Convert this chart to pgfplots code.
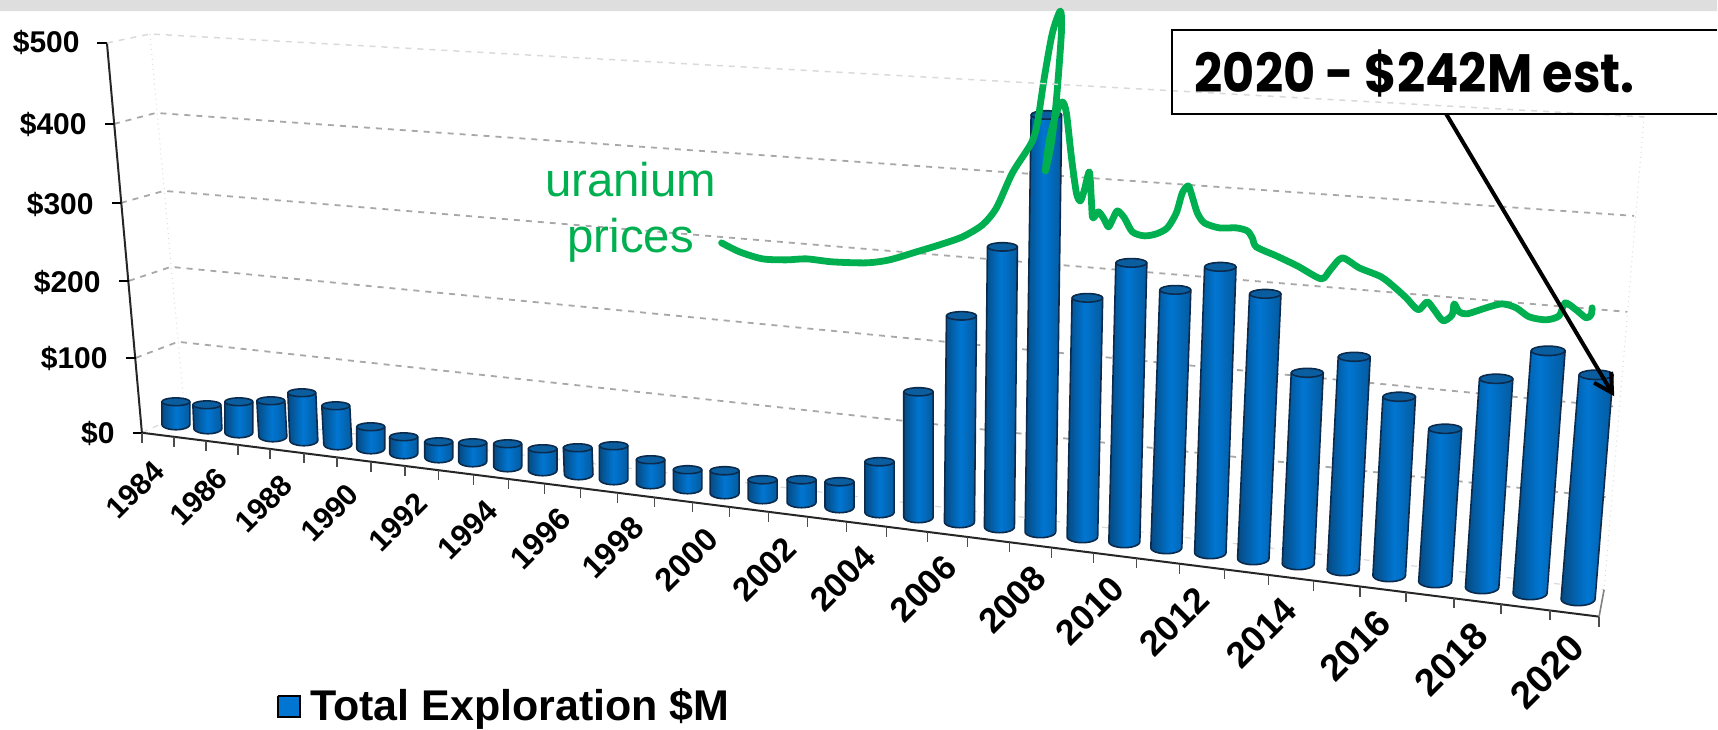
\documentclass[border=0pt]{standalone}
\usepackage{pgfplots}
\pgfplotsset{compat=1.18}
\usepackage{fontspec}
\setmainfont{Liberation Sans}
\newfontfamily\boxf{Poppins}
\definecolor{gridg}{HTML}{A8A8A8}
\definecolor{faintg}{HTML}{DADADA}
\definecolor{barL}{HTML}{064A82}
\definecolor{barM}{HTML}{0076D2}
\definecolor{barR}{HTML}{055A9E}
\definecolor{barT}{HTML}{0A5E9F}
\definecolor{barE}{HTML}{0B2A4C}
\definecolor{ugreen}{HTML}{00B050}
% one cylinder: top x, top y, bottom x, bottom y (reference pixels), half width
\newcommand\cyl[5]{%
  \pgfmathsetmacro\ryb{0.38*#5}%
  \pgfmathsetmacro\ryt{0.28*#5}%
  \pgfmathsetmacro\ybc{#4-\ryb}%
  \gdef\cylc{}%
  \foreach \a in {180,165,...,0}{%
    \pgfmathsetmacro\px{#3+#5*cos(\a)}%
    \pgfmathsetmacro\py{\ybc+\ryb*sin(\a)}%
    \xdef\cylc{\cylc (\px,\py)}}%
  \pgfmathsetmacro\xa{#1-#5}%
  \pgfmathsetmacro\xb{#1+#5}%
  \pgfmathsetmacro\xc{#3-#5}%
  \edef\tmp{\noexpand\addplot[draw=barE,line width=0.8pt,line join=round,left color=barL,right color=barR,middle color=barM,mark=none] coordinates {(\xc,\ybc) \cylc (\xb,#2) (\xa,#2) (\xc,\ybc)};}\tmp
  \gdef\cylt{}%
  \foreach \a in {0,20,...,360}{%
    \pgfmathsetmacro\px{#1+#5*cos(\a)}%
    \pgfmathsetmacro\py{#2+\ryt*sin(\a)}%
    \xdef\cylt{\cylt (\px,\py)}}%
  \edef\tmp{\noexpand\addplot[draw=barE,line width=0.8pt,line join=round,fill=barT,mark=none] coordinates {\cylt};}\tmp
}
\newcommand\grid[1]{\addplot[gridg,line width=0.9pt,dash pattern=on 3pt off 3pt,mark=none] coordinates {#1};}
\newcommand\lab[3]{\node[rotate=45,font=\fontsize{#3}{20}\selectfont\bfseries] at (axis cs:#1) {#2};}
\newcommand\ylab[2]{\node[anchor=east,inner sep=0pt,font=\fontsize{15}{18}\selectfont\bfseries] at (axis cs:#1) {#2};}
\begin{document}
\begin{tikzpicture}
\begin{axis}[hide axis,scale only axis,width=859pt,height=365pt,
  xmin=0,xmax=1718,ymin=0,ymax=730,y dir=reverse,clip=false]
\path (axis cs:0,0) rectangle (axis cs:1718,730);
% top band
\addplot[draw=none,fill=black!13,mark=none] coordinates {(0,0)(1718,0)(1718,11)(0,11)(0,0)};
% walls and floor
\addplot[faintg,line width=0.5pt,dotted,mark=none] coordinates {(150,34)(185,415)};
\addplot[faintg,line width=0.5pt,dotted,mark=none] coordinates {(1645,117)(1605,590)};
\addplot[faintg,line width=0.6pt,dash pattern=on 3pt off 3pt,mark=none] coordinates {(142,433)(185,413)(1605,590)};
\grid{(114,124)(156,113)(1635,216)}
\grid{(121,203)(164,191)(1628,312)}
\grid{(129,281)(171,267)(1618,407)}
\grid{(136,358)(178,342)(1611,498)}
% axes
\addplot[black!85,line width=1pt,mark=none] coordinates {(107,43)(142,433)};
\addplot[black!85,line width=1pt,mark=none] coordinates {(142,433)(1600,617)};
\addplot[gray,line width=0.8pt,mark=none] coordinates {(1600,617)(1605,590)};
\addplot[black,line width=0.75pt,mark=none] coordinates {(97,43)(107,43)};
\addplot[black,line width=0.75pt,mark=none] coordinates {(105,124)(114,124)};
\addplot[black,line width=0.75pt,mark=none] coordinates {(112,203)(121,203)};
\addplot[black,line width=0.75pt,mark=none] coordinates {(119,281)(129,281)};
\addplot[black,line width=0.75pt,mark=none] coordinates {(126,358)(136,358)};
\addplot[black,line width=0.75pt,mark=none] coordinates {(133,433)(142,433)};
\foreach \x in {142,174,206,238,270,304,337,371,405,439,474,509,545,581,618,655,693,730,769,808,847,887,928,968,1010,1052,1094,1137,1180,1225,1269,1314,1361,1407,1455,1502,1551,1600}{
  \pgfmathsetmacro\ya{433+(\x-142)*0.1262}
  \pgfmathsetmacro\yb{\ya+10}
  \edef\tmp{\noexpand\addplot[black!70,line width=0.75pt,mark=none] coordinates {(\x,\ya)(\x,\yb)};}\tmp
}
% bars, 1984 to 2020
\cyl{176}{402}{176}{430}{14}
\cyl{207}{405}{208}{434}{14}
\cyl{239}{402}{239}{438}{14}
\cyl{271}{401}{273}{442}{14}
\cyl{302}{393}{304}{446}{14}
\cyl{336}{406}{338}{450}{14}
\cyl{371}{427}{371}{454}{14}
\cyl{404}{437}{404}{459}{14}
\cyl{439}{442}{439}{463}{14}
\cyl{473}{443}{473}{467}{14}
\cyl{508}{444}{508}{472}{14}
\cyl{543}{449}{543}{476}{14.3}
\cyl{578}{448}{579}{480}{14.3}
\cyl{614}{446}{614}{485}{14.3}
\cyl{651}{460}{651}{489}{14.3}
\cyl{688}{470}{688}{494}{14.3}
\cyl{725}{471}{725}{499}{14.5}
\cyl{763}{480}{763}{504}{14.5}
\cyl{802}{480}{802}{508}{14.5}
\cyl{840}{482}{840}{513}{14.5}
\cyl{880}{462}{880}{518}{14.7}
\cyl{919}{392}{919}{523}{14.7}
\cyl{962}{316}{960}{528}{15}
\cyl{1003}{247}{1000}{533}{15}
\cyl{1047}{115}{1041}{538}{15.3}
\cyl{1088}{298}{1083}{543}{15.3}
\cyl{1132}{263}{1125}{548}{15.5}
\cyl{1176}{290}{1167}{554}{15.5}
\cyl{1221}{267}{1211}{559}{15.7}
\cyl{1266}{294}{1254}{565}{15.7}
\cyl{1308}{373}{1299}{570}{16}
\cyl{1355}{357}{1344}{576}{16}
\cyl{1400}{397}{1390}{582}{16.3}
\cyl{1446}{429}{1436}{588}{16.5}
\cyl{1497}{379}{1483}{594}{16.7}
\cyl{1549}{351}{1531}{600}{17}
\cyl{1597}{375}{1579}{606}{17}
% uranium price line
\addplot[ugreen,line width=3.4pt,smooth,tension=0.45,line cap=round,line join=round,mark=none] coordinates {
(722,243)(740,252)(763,259)(787,260)(807,259)(833,262)(867,263)(890,260)(917,252)(940,245)(963,237)(983,225)(997,208)(1013,173)(1032,143)(1038,123)(1045,77)(1053,33)(1061,11)(1062,33)(1057,100)(1052,143)(1046,171)(1050,140)(1057,113)(1063,102)(1067,113)(1072,157)(1077,193)(1081,201)(1085,190)(1090,172)(1092,200)(1093,217)(1095,217)(1099,212)(1104,218)(1109,227)(1113,220)(1118,211)(1125,218)(1133,232)(1145,236)(1157,234)(1168,228)(1177,213)(1183,193)(1189,186)(1193,197)(1198,213)(1205,223)(1220,228)(1237,228)(1248,231)(1253,238)(1257,247)(1277,256)(1298,266)(1322,279)(1331,270)(1343,258)(1360,268)(1382,277)(1396,288)(1407,298)(1419,310)(1428,302)(1435,310)(1444,321)(1453,315)(1455,304)(1460,312)(1468,314)(1487,308)(1503,304)(1517,308)(1530,317)(1547,320)(1560,316)(1566,303)(1577,310)(1587,318)(1592,315)(1593,308)};
\node[ugreen,anchor=base,inner sep=0pt,font=\fontsize{23.7}{28}\selectfont] at (axis cs:631,197) {uranium};
\node[ugreen,anchor=base,inner sep=0pt,font=\fontsize{23.7}{28}\selectfont] at (axis cs:631,253) {prices};
% annotation box, running off the right edge
\addplot[draw=none,fill=white,mark=none] coordinates {(1173,30)(1718,30)(1718,114)(1173,114)(1173,30)};
\addplot[faintg,line width=0.75pt,dash pattern=on 3pt off 3pt,mark=none] coordinates {(107,43)(150,34)(1645,117)};
\addplot[black,line width=1pt,mark=none] coordinates {(1718,30)(1173,30)(1173,114)(1718,114)};
\node[anchor=base west,inner sep=0pt,font=\fontsize{27}{32}\selectfont\boxf\bfseries] at (axis cs:1195,93) {\scalebox{0.914}[1]{2020 - \$242M est.}};
\addplot[black,line width=2pt,mark=none] coordinates {(1447,114)(1613,393)};
\addplot[black,line width=2pt,mark=none] coordinates {(1595,383)(1613,393)(1612,372)};
% value labels
\ylab{80,43}{\$500}
\ylab{87,125}{\$400}
\ylab{94,205}{\$300}
\ylab{101,283}{\$200}
\ylab{108,359}{\$100}
\ylab{115,434}{\$0}
% year labels
\lab{135,490}{1984}{15}\lab{199,497}{1986}{15}\lab{264,504}{1988}{15}\lab{330,513}{1990}{15}\lab{398,522}{1992}{15.2}\lab{468,530}{1994}{15.5}\lab{541,539}{1996}{15.8}\lab{613,548}{1998}{16}\lab{687,560}{2000}{16.3}\lab{765,570}{2002}{16.6}\lab{843,579}{2004}{17}\lab{924,589}{2006}{17.3}\lab{1013,600}{2008}{17.6}\lab{1090,611}{2010}{17.8}\lab{1175,622}{2012}{18}\lab{1262,633}{2014}{18.3}\lab{1356,646}{2016}{18.6}\lab{1452,660}{2018}{19}\lab{1548,672}{2020}{19.3}
% legend
\addplot[draw=black,line width=1pt,fill=barM,mark=none] coordinates {(278,696)(300,696)(300,717)(278,717)(278,696)};
\node[anchor=base west,inner sep=0pt,font=\fontsize{21.5}{24}\selectfont\bfseries] at (axis cs:310,721) {Total Exploration \$M};
\end{axis}
\end{tikzpicture}
\end{document}
